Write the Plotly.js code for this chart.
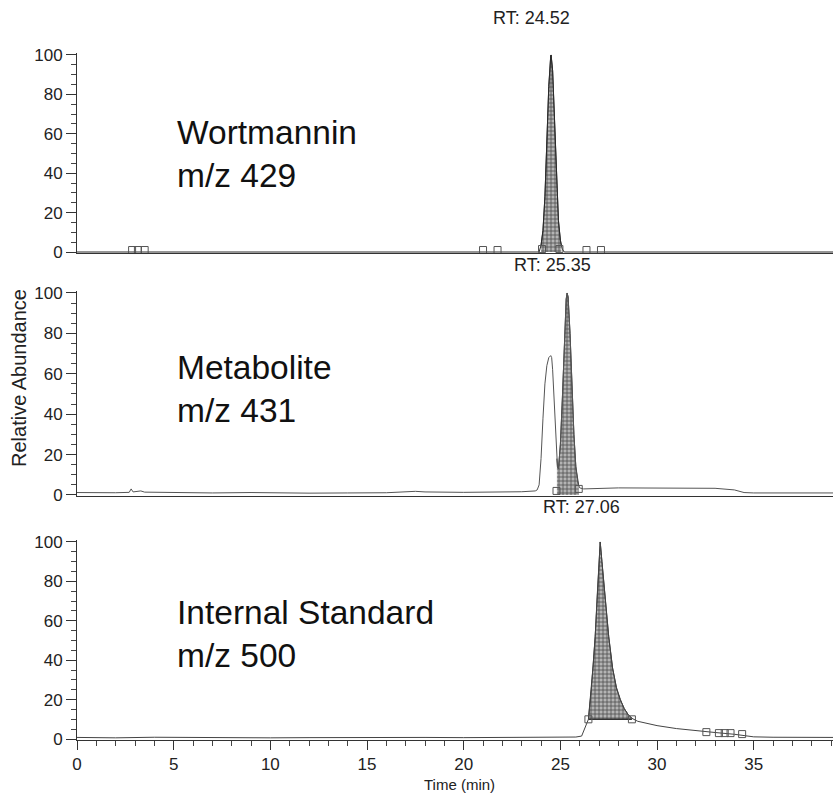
<!DOCTYPE html>
<html>
<head>
<meta charset="utf-8">
<script src="https://cdn.plot.ly/plotly-3.0.1.min.js"></script>
<style>html,body{margin:0;padding:0;background:#fff;}#chart{width:833px;height:794px;}</style>
</head>
<body>
<div id="chart"></div>
<script>
// ---------- Data ----------
// Panel 1: Wortmannin m/z 429
var wortTime = [0, 3, 10, 20, 23.9, 24.0, 24.1, 24.2, 24.3, 24.4, 24.5, 24.52, 24.6, 24.7, 24.8, 24.9, 25.0, 25.1, 25.2, 26, 30, 39.1];
var wortAbund = [0, 0, 0, 0, 0, 3.4, 11, 28, 55, 84, 99.5, 100, 92, 67, 38, 16, 6, 1.5, 0, 0, 0, 0];
var wortFillTime = [24.0, 24.1, 24.2, 24.3, 24.4, 24.5, 24.52, 24.6, 24.7, 24.8, 24.9, 25.0, 25.05];
var wortFillAbund = [3.4, 11, 28, 55, 84, 99.5, 100, 92, 67, 38, 16, 6, 3];
var wortMarkTime = [2.85, 3.15, 3.5, 21.0, 21.75, 24.05, 24.95, 26.35, 27.1];
var wortMarkAbund = [1, 1, 1, 1, 1, 1.5, 1.5, 1, 1];

// Panel 2: Metabolite m/z 431
var metaTime = [0, 1, 2, 2.7, 2.8, 2.9, 3.3, 3.5, 5, 7, 9, 10, 12, 14, 16, 17.5, 18, 20, 22, 23, 23.7, 23.8, 23.9, 24.0, 24.1, 24.2, 24.3, 24.4, 24.5, 24.55, 24.6, 24.7, 24.8, 24.85, 24.9, 25.0, 25.1, 25.2, 25.3, 25.35, 25.4, 25.5, 25.6, 25.7, 25.8, 25.9, 26.0, 26.2, 28, 30, 32, 33, 34, 34.5, 35, 37, 39.1];
var metaAbund = [1.2, 1.0, 1.1, 1.3, 3.0, 1.5, 2.0, 1.4, 1.2, 1.0, 1.2, 1.0, 0.9, 1.0, 1.1, 1.8, 1.5, 1.3, 1.4, 1.6, 2.0, 2.5, 5, 18, 38, 55, 64, 68, 69, 68, 62, 45, 22, 14, 13, 25, 47, 76, 97, 100, 98, 80, 54, 30, 14, 6, 3.5, 3.0, 3.5, 3.4, 3.6, 3.3, 2.5, 1.2, 1.0, 1.0, 1.0];
var metaFillTime = [24.82, 24.85, 24.9, 25.0, 25.1, 25.2, 25.3, 25.35, 25.4, 25.5, 25.6, 25.7, 25.8, 25.9, 25.95];
var metaFillAbund = [18, 14, 13, 25, 47, 76, 97, 100, 98, 80, 54, 30, 14, 6, 4.5];
var metaMarkTime = [24.8, 25.95];
var metaMarkAbund = [2, 3];

// Panel 3: Internal Standard m/z 500
var isTime = [0, 2, 4, 6, 8, 10, 12, 14, 16, 18, 20, 22, 24, 25, 25.8, 26.1, 26.3, 26.45, 26.6, 26.7, 26.8, 26.9, 27.0, 27.06, 27.15, 27.3, 27.5, 27.7, 27.9, 28.1, 28.3, 28.5, 28.7, 29, 29.5, 30, 31, 32, 33, 34, 34.5, 35, 36, 37, 39.1];
var isAbund = [0.8, 0.6, 0.9, 0.7, 0.8, 0.6, 0.7, 0.8, 0.6, 0.8, 0.7, 0.9, 1.0, 1.2, 1.0, 1.5, 6, 10, 25, 38, 52, 72, 94, 100, 90, 72, 52, 36, 26, 20, 15.5, 12.5, 10.5, 9, 7.8, 6.8, 5.3, 4.2, 3.3, 2.4, 1.6, 1.1, 0.9, 0.8, 0.8];
var isFillTime = [26.45, 26.6, 26.7, 26.8, 26.9, 27.0, 27.06, 27.15, 27.3, 27.5, 27.7, 27.9, 28.1, 28.3, 28.5, 28.7];
var isFillAbund = [10, 25, 38, 52, 72, 94, 100, 90, 72, 52, 36, 26, 20, 15.5, 12.5, 10.5];
var isBaseTime = [26.45, 28.7];
var isBaseAbund = [10, 10];
var isMarkTime = [26.45, 28.7, 32.55, 33.2, 33.5, 33.8, 34.4];
var isMarkAbund = [10, 10, 3.5, 3, 3, 3, 2.5];

var xTicks = [0, 5, 10, 15, 20, 25, 30, 35];
var yTicks = [0, 20, 40, 60, 80, 100];
var rtLabels = ['RT: 24.52', 'RT: 25.35', 'RT: 27.06'];
var panelNames = ['Wortmannin', 'Metabolite', 'Internal Standard'];
var panelMz = ['m/z 429', 'm/z 431', 'm/z 500'];

// ---------- Styles ----------
var FONT = '"Liberation Sans", Arial, Helvetica, sans-serif';
var lineCol = '#2a2a2a';
var pattern = {shape: '+', size: 4, solidity: 0.35, fgcolor: '#4a4a4a', bgcolor: '#b4b4b4'};

function line(x, y, xa, ya, col, w) {
  return {x: x, y: y, xaxis: xa, yaxis: ya, type: 'scatter', mode: 'lines',
          line: {color: col || lineCol, width: w || 1}, hoverinfo: 'skip', showlegend: false};
}
function marks(x, y, xa, ya) {
  return {x: x, y: y, xaxis: xa, yaxis: ya, type: 'scatter', mode: 'markers', cliponaxis: false,
          marker: {symbol: 'square-open', size: 7, color: '#555', line: {width: 1, color: '#555'}},
          hoverinfo: 'skip', showlegend: false};
}

var traces = [];
// Panel 1
var f1 = line(wortFillTime, wortFillAbund, 'x', 'y', '#333', 1);
f1.fill = 'tozeroy'; f1.fillcolor = '#999'; f1.fillpattern = pattern;
traces.push(f1);
traces.push(line(wortTime, wortAbund, 'x', 'y', lineCol, 1));
traces.push(marks(wortMarkTime, wortMarkAbund, 'x', 'y'));
// Panel 2
var f2 = line(metaFillTime, metaFillAbund, 'x2', 'y2', '#333', 1);
f2.fill = 'tozeroy'; f2.fillcolor = '#999'; f2.fillpattern = pattern;
traces.push(f2);
traces.push(line(metaTime, metaAbund, 'x2', 'y2', '#555', 1));
traces.push(marks(metaMarkTime, metaMarkAbund, 'x2', 'y2'));
// Panel 3
traces.push(line(isBaseTime, isBaseAbund, 'x3', 'y3', '#333', 1.5));
var f3 = line(isFillTime, isFillAbund, 'x3', 'y3', '#333', 1);
f3.fill = 'tonexty'; f3.fillcolor = '#999'; f3.fillpattern = pattern;
traces.push(f3);
traces.push(line(isTime, isAbund, 'x3', 'y3', '#444', 1));
traces.push(marks(isMarkTime, isMarkAbund, 'x3', 'y3'));

function yax(domain) {
  return {domain: domain, range: [-0.5, 101], tickvals: yTicks, ticks: 'outside', ticklen: 10,
          tickwidth: 1, tickcolor: '#333', showline: true, linecolor: '#333', linewidth: 1,
          showgrid: false, zeroline: false, tickfont: {family: FONT, size: 17, color: '#222'},
          minor: {dtick: 5, ticks: 'outside', ticklen: 5, tickcolor: '#444', tickwidth: 1, showgrid: false},
          fixedrange: true};
}
function xaxTop(anchor) {
  return {anchor: anchor, range: [0, 39.1], showline: true, linecolor: '#333', linewidth: 1.5,
          ticks: '', showticklabels: false, showgrid: false, zeroline: false, matches: 'x3'};
}

var annotations = [];
var rtX = [23.5, 24.57, 26.07];
var rtY = [1.0509, 0.6914, 0.3392];
for (var i = 0; i < 3; i++) {
  annotations.push({text: rtLabels[i], xref: 'x3', yref: 'paper', x: rtX[i], y: rtY[i],
    xanchor: 'center', yanchor: 'middle', showarrow: false, font: {family: FONT, size: 18, color: '#222'}});
}
var nameY = [0.885, 0.5415, 0.1849];
var mzY = [0.8224, 0.4789, 0.1237];
for (var j = 0; j < 3; j++) {
  annotations.push({text: panelNames[j], xref: 'x3', yref: 'paper', x: 5.05, y: nameY[j],
    xanchor: 'left', yanchor: 'middle', showarrow: false, font: {family: FONT, size: 33.5, color: '#111'}});
  annotations.push({text: panelMz[j], xref: 'x3', yref: 'paper', x: 5.05, y: mzY[j],
    xanchor: 'left', yanchor: 'middle', showarrow: false, font: {family: FONT, size: 33.5, color: '#111'}});
}
annotations.push({text: 'Relative Abundance', xref: 'paper', yref: 'paper', x: -0.0767, y: 0.527,
  xanchor: 'center', yanchor: 'middle', textangle: -90, showarrow: false, font: {family: FONT, size: 20, color: '#222'}});
annotations.push({text: 'Time (min)', xref: 'paper', yref: 'paper', x: 0.5066, y: -0.0655,
  xanchor: 'center', yanchor: 'middle', showarrow: false, font: {family: FONT, size: 15, color: '#222'}});

var layout = {
  width: 833, height: 794,
  margin: {l: 77, r: 0, t: 53, b: 54, pad: 0},
  paper_bgcolor: '#fff', plot_bgcolor: '#fff',
  showlegend: false,
  xaxis: xaxTop('y'),
  xaxis2: xaxTop('y2'),
  xaxis3: {anchor: 'y3', range: [0, 39.1], tickvals: xTicks, ticks: 'outside', ticklen: 9, tickwidth: 1,
           tickcolor: '#333', showline: true, linecolor: '#333', linewidth: 1, showgrid: false, zeroline: false,
           tickfont: {family: FONT, size: 17, color: '#222'},
           minor: {dtick: 1, ticks: 'outside', ticklen: 5, tickcolor: '#444', tickwidth: 1, showgrid: false}},
  yaxis: yax([0.7089, 1]),
  yaxis2: yax([0.3552, 0.6536]),
  yaxis3: yax([0, 0.2911]),
  annotations: annotations
};
layout.yaxis.anchor = 'x';
layout.yaxis2.anchor = 'x2';
layout.yaxis3.anchor = 'x3';

Plotly.newPlot('chart', traces, layout, {staticPlot: true, displayModeBar: false});
</script>
</body>
</html>
